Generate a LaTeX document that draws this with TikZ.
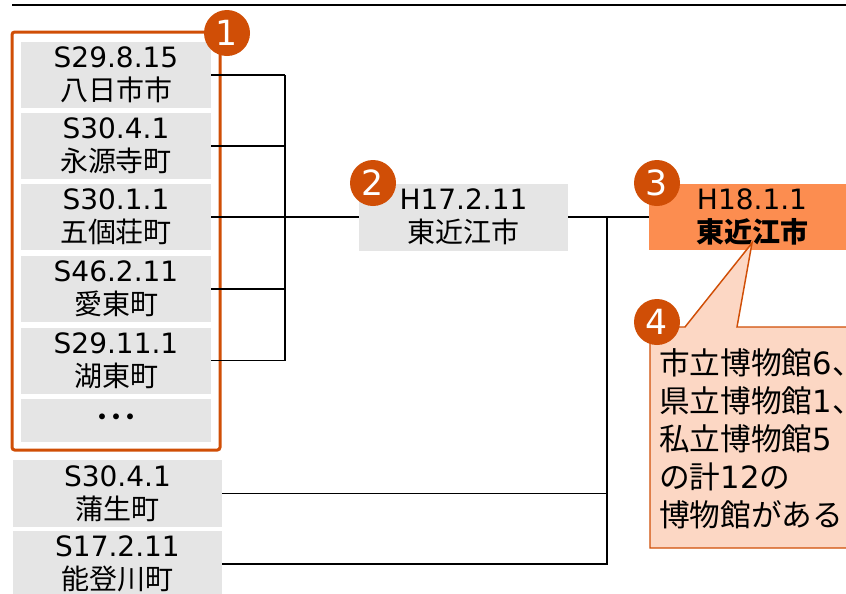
\documentclass[tikz,border=0pt]{standalone}
\usepackage{fontspec}
\setmainfont{DejaVu Sans}
\newfontfamily\cjk{Noto Sans CJK JP}
\definecolor{dorange}{RGB}{208,78,6}
\definecolor{morange}{RGB}{252,141,80}
\definecolor{peach}{RGB}{252,215,196}
\definecolor{boxgray}{RGB}{229,229,229}
\begin{document}
\begin{tikzpicture}[x=0.75pt,y=-0.75pt,
  gbox/.style={fill=boxgray, inner sep=0pt, align=center, font=\fontsize{21}{25}\selectfont, minimum width=142.5pt, minimum height=49.5pt},
  wbox/.style={gbox, minimum width=156.75pt, minimum height=50.25pt},
  num/.style={circle, fill=dorange, text=white, minimum size=34.5pt, inner sep=0pt, font=\fontsize{26}{26}\selectfont},
  conn/.style={line width=1.2pt, black},
  frame/.style={draw=dorange, line width=2.25pt, rounded corners=2pt},
  callout/.style={draw=dorange, fill=peach, line width=1.1pt, line join=miter}]
\useasboundingbox (0,0) rectangle (846,593);
\clip (0,0) rectangle (846,593);
% top rule
\draw[line width=1.5pt] (12,5) -- (846,5);
% left boxes
\node[gbox] (a1) at (116,75) {S29.8.15\\{\cjk 八日市市}};
\node[gbox] (a2) at (116,146) {S30.4.1\\{\cjk 永源寺町}};
\node[gbox] (a3) at (116,217) {S30.1.1\\{\cjk 五個荘町}};
\node[gbox] (a4) at (116,289) {S46.2.11\\{\cjk 愛東町}};
\node[gbox] (a5) at (116,360.5) {S29.11.1\\{\cjk 湖東町}};
\node[gbox, minimum height=32.25pt] (a6) at (116,420.5) {{\cjk\bfseries ･･･}};
\node[wbox] (a7) at (117.5,493.5) {S30.4.1\\{\cjk 蒲生町}};
\node[wbox] (a8) at (117.5,564) {S17.2.11\\{\cjk 能登川町}};
\draw[frame] (12,32) rectangle (220,450);
% middle and right boxes
\node[wbox] (h17) at (463.5,217) {H17.2.11\\{\cjk 東近江市}};
\node[gbox, fill=morange, minimum width=154.5pt] (h18) at (752,217) {H18.1.1\\{\cjk\bfseries 東近江市}};
% connectors
\coordinate (busA) at (285,0);
\coordinate (busB) at (607,0);
\foreach \i in {1,...,5} \draw[conn] (a\i.east) -- (a\i.east -| busA);
\draw[conn] (a1.east -| busA) -- (a5.east -| busA);
\draw[conn] (a3.east -| busA) -- (h17.west);
\draw[conn] (h17.east) -- (h18.west);
\draw[conn] (h17.east -| busB) |- (a8.east);
\draw[conn] (a7.east) -- (a7.east -| busB);
% callout
\coordinate (tip) at (752,243);
\draw[callout] (650,327) -- (685,327) -- (tip) -- (737,327) -- (870,327) -- (870,548) -- (650,548) -- cycle;
\node[anchor=base west, align=left, inner sep=0pt, font=\fontsize{23}{28.5}\selectfont] (txt) at (659,526)
  {{\cjk 市立博物館}6{\cjk 、}\\{\cjk 県立博物館}1{\cjk 、}\\{\cjk 私立博物館}5\\{\cjk の計}12{\cjk の}\\{\cjk 博物館がある}};
% number badges
\node[num] (n1) at (227,33) {1};
\node[num] (n2) at (373,183) {2};
\node[num] (n3) at (657,183) {3};
\node[num] (n4) at (657,322) {4};
\end{tikzpicture}
\end{document}
